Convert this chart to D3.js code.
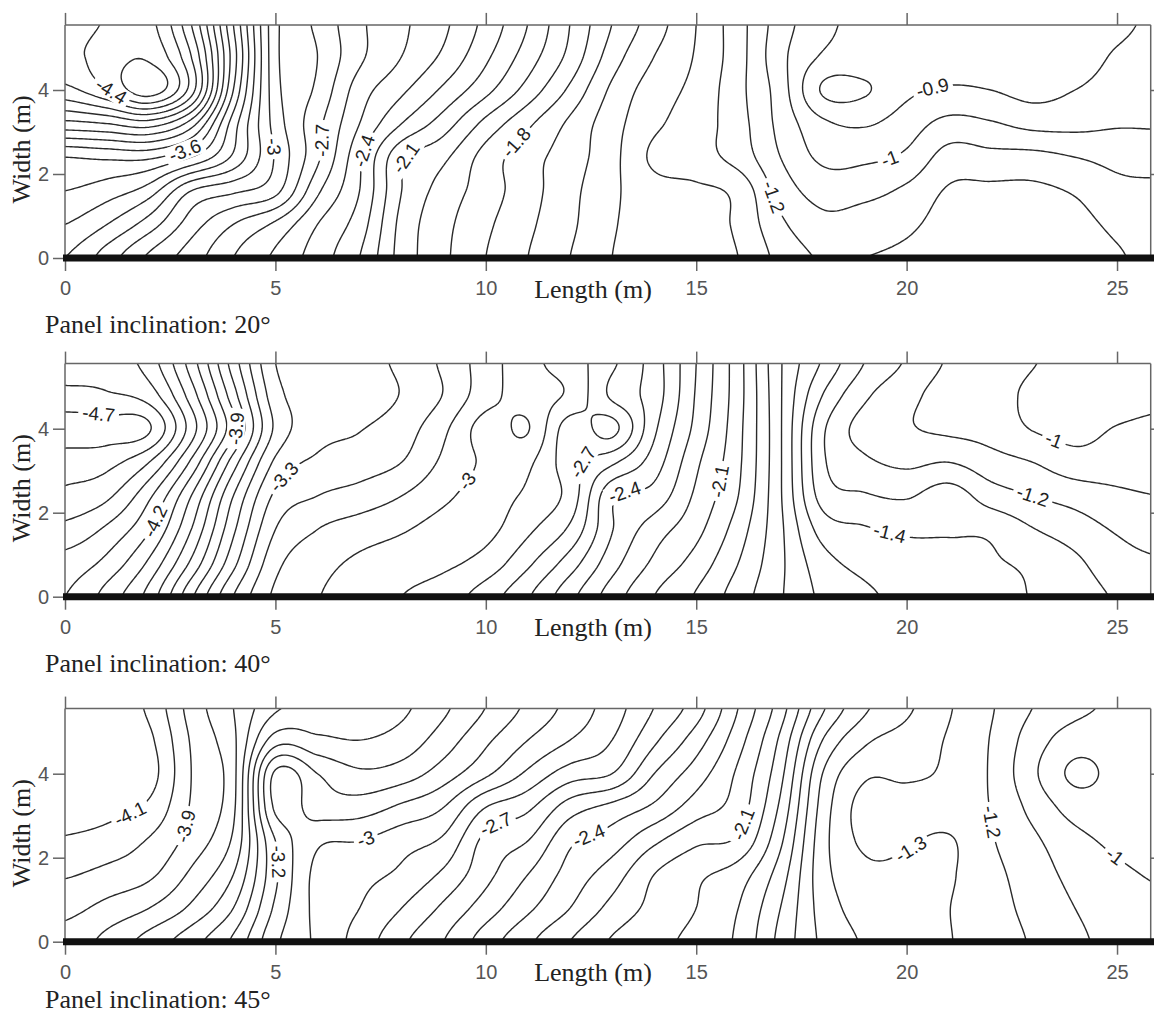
<!DOCTYPE html>
<html>
<head>
<meta charset="utf-8">
<title>Pressure coefficient contours on a solar panel array</title>
<script src="https://cdn.jsdelivr.net/npm/d3@7/dist/d3.min.js"></script>
<style>
  html, body { margin: 0; padding: 0; background: #fff; }
  svg { display: block; background: #fff; }
  .tick text { font-family: "Liberation Sans", Arial, Helvetica, sans-serif; font-size: 20px; fill: #555; }
  .tick line { stroke: #666; stroke-width: 1.5; }
  .serif { font-family: "Liberation Serif", "Times New Roman", Times, serif; fill: #222; font-size: 26px; }
  .clabel { font-family: "Liberation Sans", Arial, Helvetica, sans-serif; font-size: 19px; fill: #222; }
</style>
</head>
<body>
<svg id="chart" width="1154" height="1017"></svg>
<script>
// Measurement stations (m): along the array length and across its width
const lengthStations = d3.range(0, 27);
const widthStations = [0, 0.8, 1.6, 2.4, 3.2, 4.0, 4.8, 5.6];

// Pressure coefficients, one row per width station (bottom row first)
const cp20 = [
  [-3.30,-3.15,-2.98,-2.85,-2.70,-2.58,-2.45,-2.30,-2.06,-1.92,-1.80,-1.70,-1.60,-1.50,-1.46,-1.45,-1.40,-1.27,-1.19,-1.20,-1.22,-1.27,-1.28,-1.27,-1.25,-1.21,-1.17],
  [-3.40,-3.30,-3.15,-2.95,-2.80,-2.68,-2.50,-2.35,-2.07,-1.93,-1.82,-1.72,-1.62,-1.51,-1.46,-1.45,-1.38,-1.22,-1.13,-1.15,-1.18,-1.24,-1.25,-1.25,-1.23,-1.18,-1.15],
  [-3.50,-3.45,-3.35,-3.10,-3.02,-2.93,-2.62,-2.40,-2.10,-1.96,-1.85,-1.74,-1.63,-1.52,-1.44,-1.42,-1.37,-1.16,-1.06,-1.07,-1.12,-1.21,-1.22,-1.22,-1.19,-1.13,-1.12],
  [-3.60,-3.62,-3.62,-3.50,-3.28,-2.99,-2.72,-2.42,-2.12,-2.02,-1.86,-1.74,-1.65,-1.53,-1.38,-1.34,-1.26,-1.10,-0.98,-0.98,-1.02,-1.14,-1.13,-1.13,-1.10,-1.07,-1.06],
  [-3.97,-4.00,-4.05,-3.85,-3.35,-2.96,-2.73,-2.50,-2.30,-2.15,-1.97,-1.82,-1.68,-1.54,-1.42,-1.35,-1.24,-1.07,-0.92,-0.89,-0.95,-1.03,-1.01,-0.97,-0.97,-0.99,-0.99],
  [-4.27,-4.39,-4.56,-4.25,-3.50,-2.94,-2.78,-2.55,-2.42,-2.28,-2.13,-1.96,-1.78,-1.58,-1.45,-1.37,-1.23,-1.05,-0.79,-0.79,-0.88,-0.91,-0.90,-0.87,-0.90,-0.94,-0.96],
  [-4.36,-4.45,-4.48,-4.20,-3.55,-2.93,-2.80,-2.62,-2.50,-2.38,-2.22,-2.05,-1.87,-1.65,-1.50,-1.39,-1.24,-1.03,-0.89,-0.86,-0.86,-0.87,-0.86,-0.85,-0.86,-0.91,-0.94],
  [-4.33,-4.41,-4.43,-4.10,-3.50,-2.93,-2.78,-2.62,-2.52,-2.42,-2.27,-2.10,-1.90,-1.70,-1.55,-1.40,-1.24,-1.05,-0.93,-0.87,-0.86,-0.86,-0.85,-0.85,-0.86,-0.88,-0.92]
];
const cp40 = [
  [-4.30,-4.16,-3.96,-3.62,-3.30,-3.08,-3.005,-2.94,-2.90,-2.85,-2.75,-2.61,-2.43,-2.25,-2.10,-1.99,-1.85,-1.71,-1.58,-1.52,-1.47,-1.45,-1.43,-1.395,-1.35,-1.29,-1.26],
  [-4.36,-4.27,-4.08,-3.78,-3.43,-3.13,-3.04,-2.98,-2.95,-2.92,-2.86,-2.72,-2.55,-2.34,-2.18,-2.06,-1.90,-1.72,-1.54,-1.47,-1.44,-1.43,-1.41,-1.38,-1.32,-1.24,-1.21],
  [-4.47,-4.38,-4.21,-3.90,-3.52,-3.20,-3.10,-3.05,-3.01,-2.96,-2.93,-2.82,-2.68,-2.405,-2.25,-2.13,-1.95,-1.72,-1.46,-1.41,-1.385,-1.39,-1.38,-1.305,-1.25,-1.19,-1.16],
  [-4.58,-4.52,-4.32,-4.00,-3.60,-3.28,-3.20,-3.16,-3.10,-3.02,-2.95,-2.88,-2.76,-2.42,-2.36,-2.18,-2.00,-1.71,-1.36,-1.31,-1.29,-1.35,-1.25,-1.20,-1.16,-1.12,-1.10],
  [-4.64,-4.63,-4.50,-4.18,-3.75,-3.38,-3.28,-3.25,-3.20,-3.08,-2.98,-2.92,-2.74,-2.62,-2.45,-2.22,-2.02,-1.71,-1.32,-1.22,-1.18,-1.20,-1.14,-1.10,-1.04,-1.05,-1.06],
  [-4.76,-4.74,-4.71,-4.35,-3.93,-3.48,-3.34,-3.305,-3.25,-3.12,-2.96,-3.005,-2.75,-2.83,-2.52,-2.27,-2.03,-1.71,-1.32,-1.16,-1.11,-1.08,-1.06,-0.995,-0.97,-1.005,-1.02],
  [-4.62,-4.61,-4.55,-4.25,-3.84,-3.44,-3.36,-3.34,-3.295,-3.195,-3.04,-2.95,-2.88,-2.68,-2.55,-2.29,-2.04,-1.71,-1.40,-1.22,-1.13,-1.06,-1.04,-0.98,-0.96,-0.96,-0.98],
  [-4.58,-4.56,-4.45,-4.15,-3.75,-3.40,-3.35,-3.33,-3.28,-3.18,-3.05,-2.93,-2.85,-2.72,-2.55,-2.30,-2.04,-1.71,-1.49,-1.30,-1.19,-1.09,-1.06,-1.005,-0.97,-0.95,-0.95]
];
const cp45 = [
  [-3.86,-3.77,-3.66,-3.54,-3.38,-3.12,-2.98,-2.86,-2.72,-2.60,-2.45,-2.32,-2.20,-2.09,-2.03,-1.97,-1.88,-1.67,-1.48,-1.39,-1.35,-1.305,-1.25,-1.19,-1.12,-1.07,-1.03],
  [-3.93,-3.87,-3.80,-3.68,-3.50,-3.18,-2.97,-2.90,-2.80,-2.68,-2.55,-2.42,-2.30,-2.17,-2.07,-2.00,-1.90,-1.70,-1.46,-1.36,-1.34,-1.302,-1.24,-1.17,-1.10,-1.05,-1.02],
  [-4.01,-3.97,-3.92,-3.78,-3.60,-3.22,-2.97,-2.93,-2.88,-2.78,-2.63,-2.50,-2.36,-2.25,-2.10,-2.02,-1.95,-1.75,-1.44,-1.33,-1.32,-1.31,-1.23,-1.15,-1.07,-1.02,-0.99],
  [-4.09,-4.06,-3.99,-3.86,-3.68,-3.20,-3.02,-3.00,-2.94,-2.88,-2.67,-2.60,-2.42,-2.35,-2.22,-2.12,-2.08,-1.82,-1.44,-1.28,-1.29,-1.31,-1.21,-1.12,-1.03,-0.98,-0.96],
  [-4.14,-4.13,-4.08,-3.89,-3.72,-3.08,-3.15,-3.15,-3.08,-3.00,-2.80,-2.72,-2.55,-2.47,-2.38,-2.25,-2.15,-1.88,-1.46,-1.26,-1.25,-1.25,-1.197,-1.07,-0.96,-0.95,-0.95],
  [-4.17,-4.16,-4.14,-3.90,-3.73,-3.08,-3.20,-3.28,-3.25,-3.15,-3.02,-2.88,-2.75,-2.70,-2.50,-2.35,-2.18,-1.93,-1.50,-1.32,-1.32,-1.28,-1.19,-1.02,-0.88,-0.93,-0.95],
  [-4.18,-4.18,-4.12,-3.89,-3.72,-3.35,-3.38,-3.40,-3.36,-3.25,-3.12,-3.00,-2.90,-2.80,-2.62,-2.45,-2.24,-1.98,-1.60,-1.42,-1.36,-1.29,-1.195,-1.05,-0.95,-0.95,-0.96],
  [-4.19,-4.17,-4.08,-3.86,-3.70,-3.52,-3.46,-3.45,-3.42,-3.32,-3.20,-3.08,-2.97,-2.85,-2.70,-2.55,-2.30,-2.05,-1.72,-1.52,-1.42,-1.31,-1.21,-1.10,-1.03,-0.98,-0.97]
];

// Inline contour labels: level and the spot (m) it is written at
const labels20 = [
  {v: -4.4, x: 1.24, y: 4.2}, {v: -3.6, x: 2.8, y: 2.74}, {v: -3, x: 5.03, y: 2.64},
  {v: -2.7, x: 6.0, y: 2.8}, {v: -2.4, x: 7.1, y: 2.57}, {v: -2.1, x: 8.04, y: 2.4},
  {v: -1.8, x: 10.73, y: 2.74}, {v: -1.2, x: 16.65, y: 1.4}, {v: -1, x: 19.57, y: 2.46},
  {v: -0.9, x: 20.67, y: 3.85}
];
const labels40 = [
  {v: -4.7, x: 0.75, y: 3.98}, {v: -4.2, x: 2.42, y: 1.67}, {v: -3.9, x: 4.16, y: 4.0},
  {v: -3.3, x: 5.27, y: 2.79}, {v: -3, x: 9.39, y: 2.87}, {v: -2.7, x: 12.32, y: 3.23},
  {v: -2.4, x: 13.31, y: 2.47}, {v: -2.1, x: 15.41, y: 2.79}, {v: -1.4, x: 19.57, y: 1.39},
  {v: -1.2, x: 23.01, y: 2.43}, {v: -1, x: 23.41, y: 3.51}
];
const labels45 = [
  {v: -4.1, x: 1.55, y: 3.0}, {v: -3.9, x: 2.85, y: 2.76}, {v: -3.2, x: 5.07, y: 1.92},
  {v: -3, x: 7.17, y: 2.36}, {v: -2.7, x: 10.3, y: 2.64}, {v: -2.4, x: 12.52, y: 2.36},
  {v: -2.1, x: 16.2, y: 2.76}, {v: -1.3, x: 20.08, y: 2.24}, {v: -1.2, x: 22.02, y: 2.84},
  {v: -1, x: 24.95, y: 2.04}
];

const xTicks = [0, 5, 10, 15, 20, 25];
const yTicks = [0, 2, 4];
const levels = d3.range(-48, -7).map(d => d / 10);   // contour interval 0.1
const lengthExtent = [0, 25.8];
const widthExtent = [0, 5.55];

const panels = [
  {title: "Panel inclination: 20°", field: cp20, labels: labels20},
  {title: "Panel inclination: 40°", field: cp40, labels: labels40},
  {title: "Panel inclination: 45°", field: cp45, labels: labels45}
];

// ---- page geometry (px) ----
const W = 1154, H = 1017;
const frames = [
  {base: 258.0, titleY: 332.5},
  {base: 596.7, titleY: 671.7},
  {base: 941.7, titleY: 1008.3}
];
const pxPerMetre = 42;

const svg = d3.select("#chart");
const defs = svg.append("defs");
const x = d3.scaleLinear().domain(lengthExtent).range([65, 1150.7]);

// ---- smooth resampling of the station grid (Catmull-Rom) ----
function catmull(p0, p1, p2, p3, t) {
  const t2 = t * t, t3 = t2 * t;
  return 0.5 * (2 * p1 + (-p0 + p2) * t + (2 * p0 - 5 * p1 + 4 * p2 - p3) * t2 + (-p0 + 3 * p1 - 3 * p2 + p3) * t3);
}
function sample(grid, xm, ym) {
  const nc = lengthStations.length, nr = widthStations.length;
  const sx = lengthStations[1] - lengthStations[0], sy = widthStations[1] - widthStations[0];
  const u = Math.max(0, Math.min(nc - 1, (xm - lengthStations[0]) / sx));
  const v = Math.max(0, Math.min(nr - 1, (ym - widthStations[0]) / sy));
  const i = Math.min(Math.floor(u), nc - 2), t = u - i;
  const j = Math.min(Math.floor(v), nr - 2), s = v - j;
  const ci = k => Math.max(0, Math.min(nc - 1, k));
  const rj = k => Math.max(0, Math.min(nr - 1, k));
  const r = [];
  for (let dj = -1; dj <= 2; dj++) {
    const row = grid[rj(j + dj)];
    r.push(catmull(row[ci(i - 1)], row[ci(i)], row[ci(i + 1)], row[ci(i + 2)], t));
  }
  return catmull(r[0], r[1], r[2], r[3], s);
}

const step = 0.05, pad = 0.3;
const gx0 = lengthStations[0] - pad, gy0 = widthStations[0] - pad;
const nx = Math.round((lengthStations[lengthStations.length - 1] - lengthStations[0] + 2 * pad) / step) + 1;
const ny = Math.round((widthStations[widthStations.length - 1] - widthStations[0] + 2 * pad) / step) + 1;

panels.forEach((panel, pi) => {
  const fr = frames[pi];
  const y = d3.scaleLinear().domain(widthExtent)
    .range([fr.base, fr.base - (widthExtent[1] - widthExtent[0]) * pxPerMetre]);
  const top = y(widthExtent[1]);
  const g = svg.append("g");

  // resampled field
  const values = new Float64Array(nx * ny);
  for (let j = 0; j < ny; j++) {
    const ym = gy0 + j * step;
    for (let i = 0; i < nx; i++) values[j * nx + i] = sample(panel.field, gx0 + i * step, ym);
  }
  const contours = d3.contours().size([nx, ny]).thresholds(levels)(Array.from(values));
  const toScreen = p => [x(gx0 + (p[0] - 0.5) * step), y(gy0 + (p[1] - 0.5) * step)];

  // screen-space rings for every level
  const rings = contours.map(c => ({
    value: c.value,
    rings: c.coordinates.flatMap(poly => poly.map(ring => ring.map(toScreen)))
  }));

  // clip region = plot area
  defs.append("clipPath").attr("id", "clip" + pi)
    .append("rect").attr("x", x(lengthExtent[0])).attr("y", top)
    .attr("width", x(lengthExtent[1]) - x(lengthExtent[0])).attr("height", fr.base - top);

  const mask = defs.append("mask").attr("id", "mask" + pi)
    .attr("maskUnits", "userSpaceOnUse").attr("x", 0).attr("y", 0).attr("width", W).attr("height", H);
  mask.append("rect").attr("x", 0).attr("y", 0).attr("width", W).attr("height", H).attr("fill", "#fff");

  const line = d3.line();
  const cg = g.append("g").attr("clip-path", `url(#clip${pi})`).attr("mask", `url(#mask${pi})`);
  rings.forEach(c => {
    c.rings.forEach(r => {
      cg.append("path").attr("d", line(r))
        .attr("fill", "none").attr("stroke", "#2a2a2a").attr("stroke-width", 1.4)
        .attr("stroke-linejoin", "round");
    });
  });

  // contour labels placed on their own level line
  const inside = p => p[0] > x(lengthExtent[0]) + 4 && p[0] < x(lengthExtent[1]) - 4 && p[1] > top + 4 && p[1] < fr.base - 4;
  const lg = g.append("g");
  panel.labels.forEach(lab => {
    const lev = rings.find(c => Math.abs(c.value - lab.v) < 1e-6);
    if (!lev) return;
    const ax = x(lab.x), ay = y(lab.y);
    let best = null;
    lev.rings.forEach(r => r.forEach((p, k) => {
      if (!inside(p)) return;
      const d = (p[0] - ax) ** 2 + (p[1] - ay) ** 2;
      if (!best || d < best.d) best = {d, r, k};
    }));
    if (!best) return;
    const n = best.r.length - 1;
    const p = best.r[best.k];
    const a = best.r[(best.k - 5 + n * 10) % n], b = best.r[(best.k + 5) % n];
    let ang = Math.atan2(b[1] - a[1], b[0] - a[0]) * 180 / Math.PI;
    if (ang > 90) ang -= 180;
    if (ang < -90) ang += 180;
    const t = lg.append("text").attr("class", "clabel")
      .attr("text-anchor", "middle").attr("dominant-baseline", "central")
      .attr("transform", `translate(${p[0]},${p[1]}) rotate(${ang})`)
      .text(String(lab.v));
    const w = t.node().getComputedTextLength() + 8;
    mask.append("rect").attr("x", -w / 2).attr("y", -9).attr("width", w).attr("height", 18)
      .attr("fill", "#000").attr("transform", `translate(${p[0]},${p[1]}) rotate(${ang})`);
  });

  // axes
  const ab = g.append("g").attr("transform", `translate(0,${fr.base})`)
    .call(d3.axisBottom(x).tickValues(xTicks).tickSize(13).tickSizeOuter(0).tickPadding(10).tickFormat(d3.format("d")));
  ab.select(".domain").remove();
  const at = g.append("g").attr("transform", `translate(0,${top})`)
    .call(d3.axisTop(x).tickValues(xTicks).tickSize(12).tickSizeOuter(0).tickFormat(() => ""));
  at.select(".domain").remove();
  const al = g.append("g").attr("transform", `translate(${x(0)},0)`)
    .call(d3.axisLeft(y).tickValues(yTicks).tickSize(12).tickSizeOuter(0).tickPadding(4).tickFormat(d3.format("d")));
  al.select(".domain").remove();
  const ar = g.append("g").attr("transform", `translate(${x(lengthExtent[1])},0)`)
    .call(d3.axisRight(y).tickValues(yTicks).tickSize(12).tickSizeOuter(0).tickFormat(() => ""));
  ar.select(".domain").remove();

  // frame
  const frameStyle = s => s.attr("stroke", "#666").attr("stroke-width", 1.5);
  g.append("line").attr("x1", x(0)).attr("x2", x(0)).attr("y1", top).attr("y2", fr.base).call(frameStyle);
  g.append("line").attr("x1", x(0)).attr("x2", x(lengthExtent[1])).attr("y1", top).attr("y2", top).call(frameStyle);
  g.append("line").attr("x1", x(lengthExtent[1])).attr("x2", x(lengthExtent[1])).attr("y1", top).attr("y2", fr.base).call(frameStyle);

  // eave line along the bottom edge
  g.append("line").attr("x1", x(0) - 2).attr("x2", W).attr("y1", y(0)).attr("y2", y(0))
    .attr("stroke", "#111").attr("stroke-width", 7);

  // titles
  g.append("text").attr("class", "serif").attr("text-anchor", "middle")
    .attr("x", 593).attr("y", fr.base + 39.5).text("Length (m)");
  g.append("text").attr("class", "serif").attr("text-anchor", "middle")
    .attr("transform", `translate(30,${(top + fr.base) / 2 + 8}) rotate(-90)`).text("Width (m)");
  g.append("text").attr("class", "serif").attr("x", 45).attr("y", fr.titleY).text(panel.title);
});
</script>
</body>
</html>
